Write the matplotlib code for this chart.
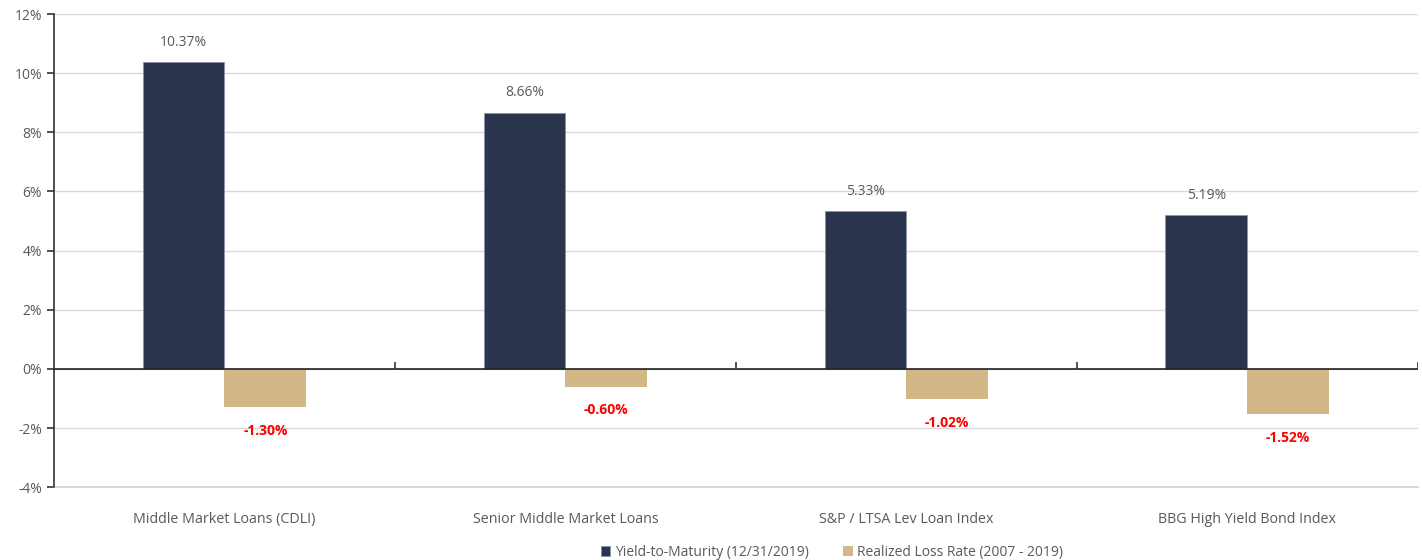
import numpy as np
import matplotlib.pyplot as plt
from matplotlib.ticker import FuncFormatter

plt.rcParams['font.family'] = ['Open Sans', 'DejaVu Sans']

categorias = ['Middle Market Loans (CDLI)', 'Senior Middle Market Loans',
              'S&P / LTSA Lev Loan Index', 'BBG High Yield Bond Index']
rendimiento = [10.37, 8.66, 5.33, 5.19]
perdida = [-1.30, -0.60, -1.02, -1.52]
serie_names = ['Yield-to-Maturity (12/31/2019)', 'Realized Loss Rate (2007 - 2019)']

navy = '#2B344D'
tan = '#D2B887'
gris = '#595959'

fig = plt.figure(figsize=(14.22, 5.6), dpi=100)
ax = fig.add_axes([0.038, 0.130, 0.959, 0.845])

x = np.arange(len(categorias))
w = 0.24
b1 = ax.bar(x - w / 2, rendimiento, w, color=navy, edgecolor='#8A93A8', linewidth=0.6,
            label=serie_names[0], zorder=3)
b2 = ax.bar(x + w / 2, perdida, w, color=tan, label=serie_names[1], zorder=3)

for xi, v in zip(x - w / 2, rendimiento):
    ax.annotate(f'{v:.2f}%', (xi, v), xytext=(0, 9), textcoords='offset points',
                ha='center', va='bottom', fontsize=10, color=gris)
for xi, v in zip(x + w / 2, perdida):
    ax.annotate(f'{v:.2f}%', (xi, v), xytext=(0, -12), textcoords='offset points',
                ha='center', va='top', fontsize=10, color='#FF0000', fontweight='bold')

ax.set_xlim(-0.5, len(categorias) - 0.5)
ax.set_ylim(-4, 12)
ax.set_yticks(np.arange(-4, 13, 2))
ax.yaxis.set_major_formatter(FuncFormatter(lambda v, p: f'{v:.0f}%'))
ax.yaxis.grid(True, color='#D9D9D9', linewidth=1, zorder=0)
ax.set_axisbelow(True)
ax.axhline(-4, color='#D9D9D9', linewidth=1.5, clip_on=False, zorder=1)

ax.axhline(0, color='#222222', linewidth=1.2, zorder=4)
# separadores de categoria sobre la linea de cero
ax.vlines(x[:-1] + 0.5, 0, 0.25, color='#333333', linewidth=1.2, zorder=4)
ax.vlines([len(categorias) - 0.5], 0, 0.25, color='#333333', linewidth=1.2, zorder=4)

ax.set_xticks(x)
ax.set_xticklabels(categorias, fontsize=10.3, color=gris)
ax.tick_params(axis='x', length=0, pad=18)
ax.tick_params(axis='y', labelsize=10, labelcolor=gris, color='#333333', length=5, width=1.2)

for s in ['top', 'right', 'bottom']:
    ax.spines[s].set_visible(False)
ax.spines['left'].set_color('#333333')
ax.spines['left'].set_linewidth(1.2)

fig.legend(handles=[b1, b2], labels=serie_names, loc='lower center',
           bbox_to_anchor=(0.585, -0.022), ncol=2, frameon=False, fontsize=10,
           labelcolor=gris, handlelength=0.7, handleheight=0.7, handletextpad=0.3,
           columnspacing=2.5)

plt.savefig('out.png', dpi=100)
